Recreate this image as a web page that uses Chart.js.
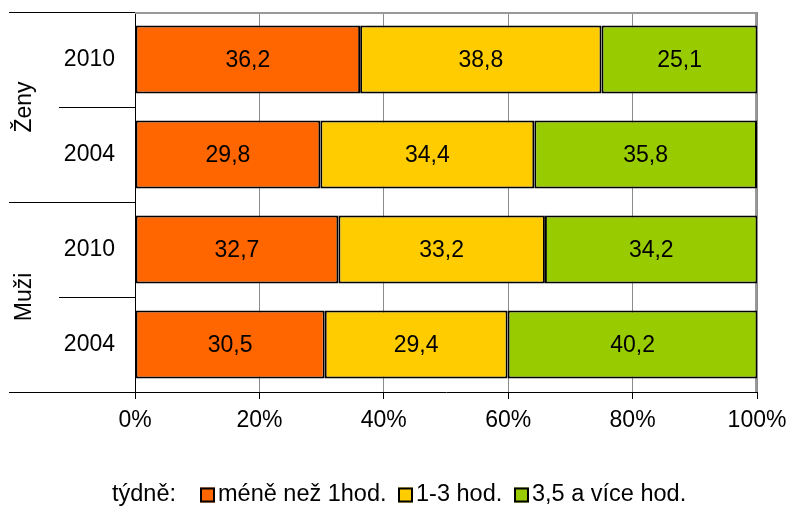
<!DOCTYPE html>
<html lang="cs">
<head>
<meta charset="utf-8">
<title>Sport týdně – ženy a muži</title>
<script src="https://cdn.jsdelivr.net/npm/chart.js@4.4.1/dist/chart.umd.min.js"></script>
<style>
  html, body { margin: 0; padding: 0; background: #fff; }
  #wrap { width: 790px; height: 507px; }
</style>
</head>
<body>
<div id="wrap"><canvas id="c" width="790" height="507"></canvas></div>
<script>
// Rows from top to bottom: Ženy 2010, Ženy 2004, Muži 2010, Muži 2004
const categories = ['2010', '2004', '2010', '2004'];
const groups = ['Ženy', 'Muži'];
const seriesNames = ['méně než 1hod.', '1-3 hod.', '3,5 a více hod.'];
const lessThanOneHour = [36.2, 29.8, 32.7, 30.5];
const oneToThreeHours = [38.8, 34.4, 33.2, 29.4];
const moreThanThreeHours = [25.1, 35.8, 34.2, 40.2];
const percentTicks = [0, 20, 40, 60, 80, 100];
const legendPrefix = 'týdně:';

const seriesColors = ['#FF6600', '#FFCC00', '#99CC00'];
const FONT = "'Liberation Sans', Arial, sans-serif";
const FONT_SIZE = 23;

const fmt = v => v.toFixed(1).replace('.', ',');

// Value labels centred in every bar segment
const valueLabels = {
  id: 'valueLabels',
  afterDatasetsDraw(chart) {
    const ctx = chart.ctx;
    ctx.save();
    ctx.font = FONT_SIZE + 'px ' + FONT;
    ctx.fillStyle = '#000';
    ctx.textAlign = 'center';
    ctx.textBaseline = 'middle';
    chart.data.datasets.forEach((ds, di) => {
      chart.getDatasetMeta(di).data.forEach((el, i) => {
        const x = (el.x + el.base) / 2;
        ctx.fillText(fmt(ds.data[i]), x, el.y + 1);
      });
    });
    ctx.restore();
  }
};

// Category separators, group captions and the plot frame
const axisDecor = {
  id: 'axisDecor',
  beforeDatasetsDraw(chart) {
    const ctx = chart.ctx;
    const area = chart.chartArea;
    ctx.save();
    ctx.strokeStyle = '#999';
    ctx.lineWidth = 2;
    ctx.beginPath();
    ctx.moveTo(area.left, area.top + 1);
    ctx.lineTo(area.right, area.top + 1);
    ctx.moveTo(area.right - 1, area.top);
    ctx.lineTo(area.right - 1, area.bottom);
    ctx.stroke();
    ctx.restore();
  },
  afterDraw(chart) {
    const ctx = chart.ctx;
    const area = chart.chartArea;
    const n = categories.length;
    const step = (area.bottom - area.top) / n;
    ctx.save();
    // separators to the left of the axis
    ctx.strokeStyle = '#000';
    ctx.lineWidth = 1;
    for (let k = 0; k <= n; k++) {
      const py = Math.round(area.top + k * step) + 0.5;
      const long = k % 2 === 0;
      ctx.beginPath();
      ctx.moveTo(long ? 9 : 59, py);
      ctx.lineTo(area.left, py);
      ctx.stroke();
    }
    // group captions, rotated
    ctx.fillStyle = '#000';
    ctx.font = FONT_SIZE + 'px ' + FONT;
    ctx.textAlign = 'center';
    ctx.textBaseline = 'middle';
    groups.forEach((g, gi) => {
      const cy = area.top + (gi * 2 + 1) * step;
      ctx.save();
      ctx.translate(25, cy);
      ctx.rotate(-Math.PI / 2);
      ctx.fillText(g, 0, 0);
      ctx.restore();
    });
    ctx.restore();
  }
};

// Legend row with leading caption
const bottomLegend = {
  id: 'bottomLegend',
  afterDraw(chart) {
    const ctx = chart.ctx;
    const cy = 495;
    const box = 15;
    const boxLeft = [200, 398, 514];
    ctx.save();
    ctx.font = '23.5px ' + FONT;
    ctx.textBaseline = 'middle';
    ctx.textAlign = 'left';
    ctx.fillStyle = '#000';
    ctx.fillText(legendPrefix, 112, cy);
    chart.data.datasets.forEach((ds, i) => {
      const x = boxLeft[i];
      ctx.fillStyle = ds.backgroundColor;
      ctx.fillRect(x, cy - box / 2, box, box);
      ctx.strokeStyle = '#000';
      ctx.lineWidth = 2;
      ctx.strokeRect(x + 1, cy - box / 2 + 1, box - 2, box - 2);
      ctx.fillStyle = '#000';
      ctx.fillText(ds.label, x + box + 3, cy);
    });
    ctx.restore();
  }
};

const data = {
  labels: categories,
  datasets: [lessThanOneHour, oneToThreeHours, moreThanThreeHours].map((values, i) => ({
    label: seriesNames[i],
    data: values,
    backgroundColor: seriesColors[i],
    borderColor: '#000',
    borderWidth: 2,
    borderSkipped: false,
    barPercentage: 0.716,
    categoryPercentage: 1
  }))
};

new Chart(document.getElementById('c'), {
  type: 'bar',
  data,
  plugins: [valueLabels, axisDecor, bottomLegend],
  options: {
    indexAxis: 'y',
    responsive: false,
    animation: false,
    devicePixelRatio: 1,
    layout: { padding: { top: 12, right: 33, left: 0, bottom: 0 } },
    plugins: { legend: { display: false }, tooltip: { enabled: false } },
    scales: {
      x: {
        stacked: true,
        min: 0,
        max: 100,
        afterBuildTicks: s => { s.ticks = percentTicks.map(v => ({ value: v })); },
        afterFit: s => {
          s.height = 115;
          s.paddingLeft = 0; s.paddingRight = 0; s.paddingTop = 0; s.paddingBottom = 0;
        },
        ticks: {
          callback: v => v + '%',
          color: '#000',
          font: { family: FONT, size: FONT_SIZE },
          padding: 8,
          maxRotation: 0
        },
        grid: { color: '#8c8c8c', tickColor: '#000', tickLength: 7, drawOnChartArea: true },
        border: { color: '#000', width: 1 }
      },
      y: {
        stacked: true,
        afterFit: s => {
          s.width = 135;
          s.paddingLeft = 0; s.paddingRight = 0; s.paddingTop = 0; s.paddingBottom = 0;
        },
        ticks: {
          color: '#000',
          font: { family: FONT, size: FONT_SIZE },
          padding: 20
        },
        grid: { display: false, drawTicks: false },
        border: { color: '#000', width: 1 }
      }
    }
  }
});
</script>
</body>
</html>
